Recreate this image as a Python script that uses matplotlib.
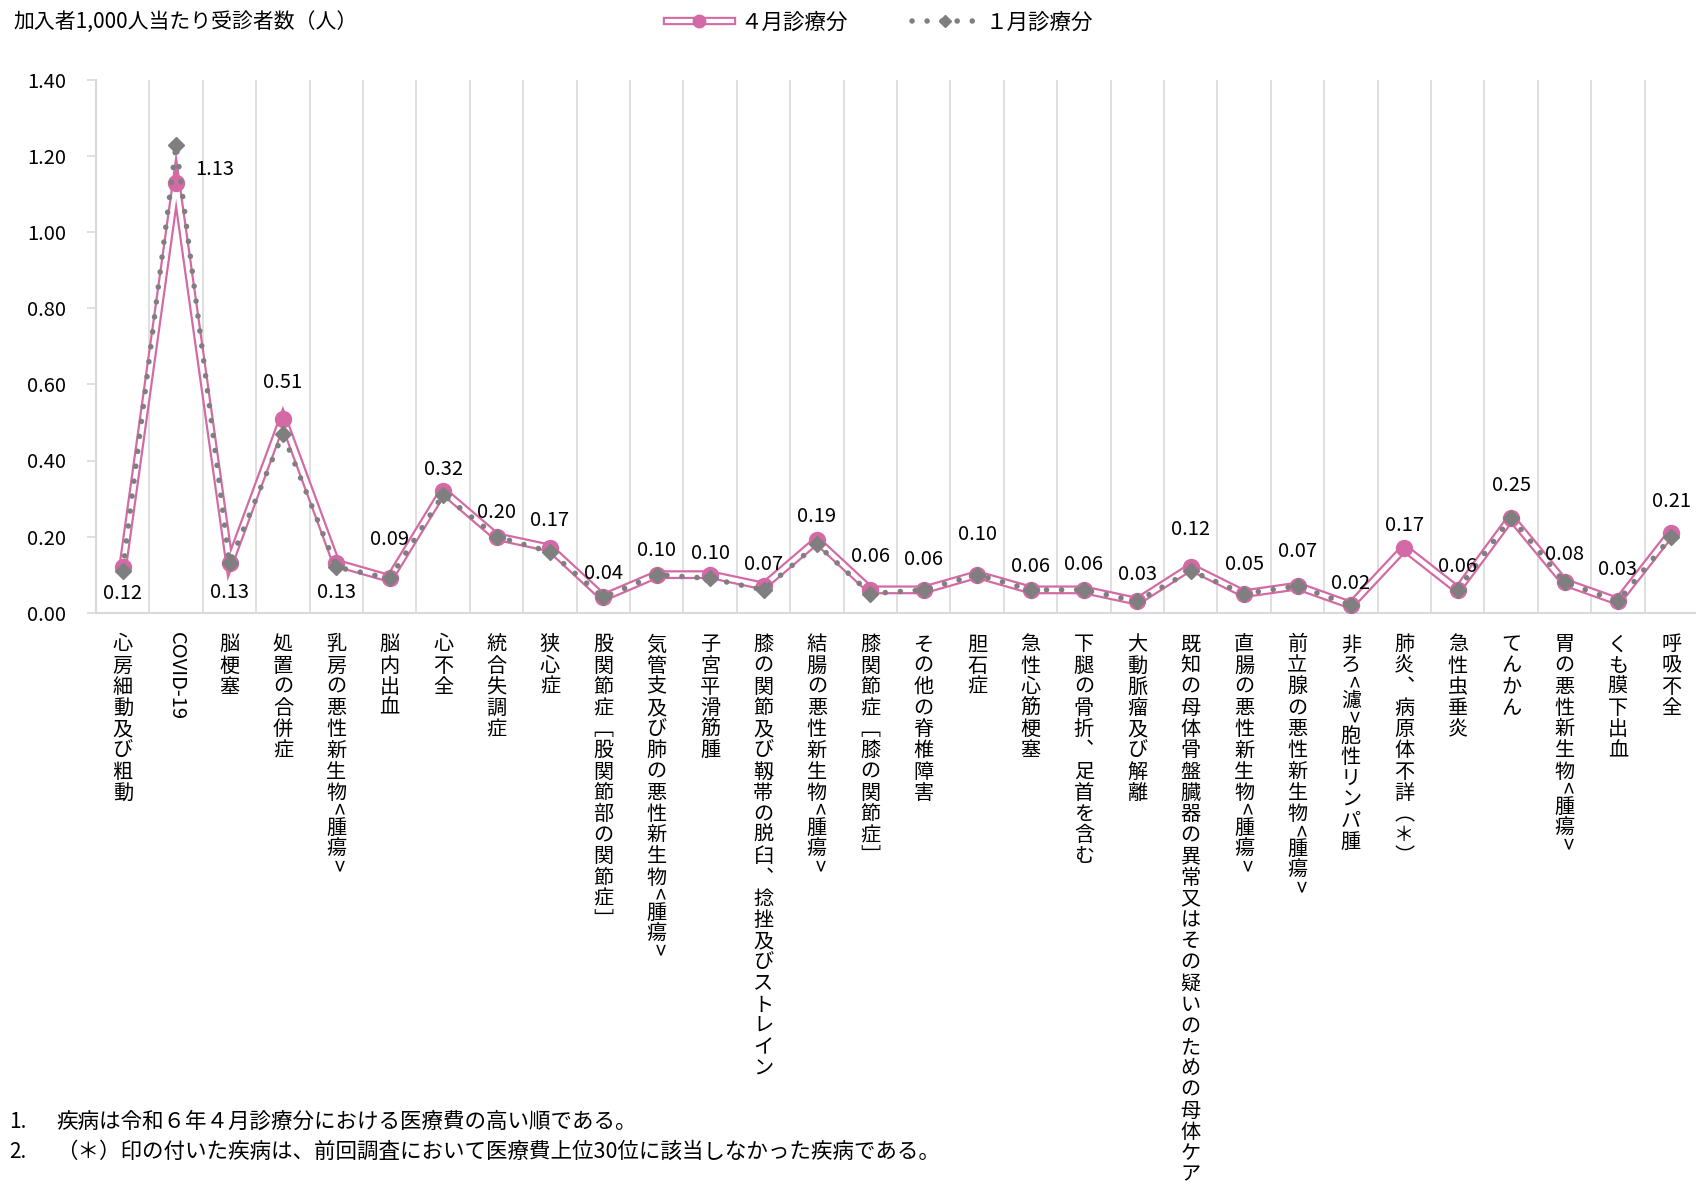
import numpy as np
import matplotlib
matplotlib.use('Agg')
import matplotlib.pyplot as plt
from matplotlib.lines import Line2D

plt.rcParams['font.family'] = ['Noto Sans CJK JP', 'DejaVu Sans']

# 疾病（令和6年4月診療分の医療費の高い順）
diseases = ['心房細動及び粗動', 'COVID-19', '脳梗塞', '処置の合併症', '乳房の悪性新生物<腫瘍>',
            '脳内出血', '心不全', '統合失調症', '狭心症', '股関節症［股関節部の関節症］',
            '気管支及び肺の悪性新生物<腫瘍>', '子宮平滑筋腫', '膝の関節及び靱帯の脱臼、捻挫及びストレイン',
            '結腸の悪性新生物<腫瘍>', '膝関節症［膝の関節症］', 'その他の脊椎障害', '胆石症',
            '急性心筋梗塞', '下腿の骨折、足首を含む', '大動脈瘤及び解離',
            '既知の母体骨盤臓器の異常又はその疑いのための母体ケア', '直腸の悪性新生物<腫瘍>',
            '前立腺の悪性新生物<腫瘍>', '非ろ<濾>胞性リンパ腫', '肺炎、病原体不詳（＊）',
            '急性虫垂炎', 'てんかん', '胃の悪性新生物<腫瘍>', 'くも膜下出血', '呼吸不全']

# 加入者1,000人当たり受診者数
apr = [0.12, 1.13, 0.13, 0.51, 0.13, 0.09, 0.32, 0.20, 0.17, 0.04,
       0.10, 0.10, 0.07, 0.19, 0.06, 0.06, 0.10, 0.06, 0.06, 0.03,
       0.12, 0.05, 0.07, 0.02, 0.17, 0.06, 0.25, 0.08, 0.03, 0.21]
jan = [0.11, 1.23, 0.13, 0.47, 0.12, 0.09, 0.31, 0.20, 0.16, 0.04,
       0.10, 0.09, 0.06, 0.18, 0.05, 0.06, 0.10, 0.06, 0.06, 0.03,
       0.11, 0.05, 0.07, 0.02, np.nan, 0.06, 0.25, 0.08, 0.03, 0.20]

series_names = ['４月診療分', '１月診療分']
y_title = '加入者1,000人当たり受診者数（人）'
notes = ['疾病は令和６年４月診療分における医療費の高い順である。',
         '（＊）印の付いた疾病は、前回調査において医療費上位30位に該当しなかった疾病である。']

pink = '#D36AA6'
gray = '#7F7F7F'
grid_c = '#D9D9D9'

# data label offsets (px, up = +), 1.13 is put to the right
lab_dy = [-26, 13, -29, 36, -29, 39, 21, 24, 28, 24, 24, 21, 22, 24, 33,
          30, 40, 23, 25, 27, 38, 29, 35, 22, 23, 23, 32, 28, 32, 31]
lab_dx = [0] * 30
lab_dx[1] = 39

fs_cat = 14.5
pitch = 21.2 * 0.72   # points per character
top = 14.0            # points below the axis

# vertical forms for tategaki
vmap = {'［': '\ufe47', '］': '\ufe48', '（': '\ufe35', '）': '\ufe36', '、': '\ufe11'}


def tate(ax, i, s):
    # write a label top-to-bottom, one character per cell
    y = -top
    kw = dict(xycoords=('data', 'axes fraction'), textcoords='offset points', ha='center')
    for c in s:
        if c in '<>':
            adv = pitch * 0.65
            ax.annotate(c, (i, 0), xytext=(0, y - adv / 2), va='center', rotation=-90,
                        fontsize=fs_cat * 1.1, **kw)
        else:
            adv = pitch
            ax.annotate(vmap.get(c, c), (i, 0), xytext=(0, y - adv / 2 - 0.38 * fs_cat),
                        va='baseline', fontsize=fs_cat, **kw)
        y -= adv


fig = plt.figure(figsize=(16.96, 11.85), dpi=100)
W, H = 1696, 1185
ax = fig.add_axes([96 / W, 1 - 612.7 / H, (1698 - 96) / W, 532.7 / H])

x = np.arange(len(diseases))
ax.plot(x, apr, color=pink, lw=6.4, zorder=2, solid_joinstyle='miter')
ax.plot(x, apr, color='white', lw=3.2, zorder=3, solid_joinstyle='miter')
ax.plot(x, apr, 'o', color=pink, ms=11.5, zorder=4)
ax.plot(x, jan, color=gray, lw=4.0, ls=(0, (0.01, 2.7)), dash_capstyle='round',
        marker='D', ms=8, zorder=5)

ax.set_xlim(-0.5, len(diseases) - 0.5)
ax.set_ylim(0, 1.4)
ax.set_yticks(np.arange(0, 1.41, 0.2))
ax.set_yticklabels(['%.2f' % v for v in np.arange(0, 1.41, 0.2)])
ax.set_xticks([])
ax.set_xticks(x + 0.5, minor=True)
ax.grid(which='minor', axis='x', color=grid_c, lw=1.2)
ax.tick_params(axis='x', which='minor', length=0)
ax.tick_params(axis='y', length=6.5, width=1.2, color=grid_c, pad=15, labelsize=14.5)
for s in ['top', 'right']:
    ax.spines[s].set_visible(False)
for s in ['left', 'bottom']:
    ax.spines[s].set_color(grid_c)
    ax.spines[s].set_linewidth(1.5)

# data labels
for i, v in enumerate(apr):
    ax.annotate('%.2f' % v, (i, v), xytext=(lab_dx[i] * 0.72, lab_dy[i] * 0.72),
                textcoords='offset points', ha='center', va='center', fontsize=14.5, zorder=6)

# category labels
for i, name in enumerate(diseases):
    if name.isascii():
        ax.annotate(name, (i, 0), xycoords=('data', 'axes fraction'), xytext=(0, -top),
                    textcoords='offset points', ha='center', va='top', rotation=-90,
                    fontsize=fs_cat)
    else:
        tate(ax, i, name)

fig.text(13 / W, 1 - 22 / H, y_title, ha='left', va='center', fontsize=15)

h1 = (Line2D([], [], color=pink, lw=6.0), Line2D([], [], color='white', lw=3.0),
      Line2D([], [], ls='none', marker='o', color=pink, ms=9))
h2 = Line2D([], [], color=gray, lw=4, ls=(0, (0.01, 2.7)), dash_capstyle='round',
            marker='D', ms=6.5)
fig.legend([h1, h2], series_names, loc='center', bbox_to_anchor=(880 / W, 1 - 23 / H),
           ncol=2, frameon=False, fontsize=15.5, handlelength=3.0, handletextpad=0.4,
           columnspacing=3.0, numpoints=1)

for k, t in enumerate(notes):
    yy = 1 - (1122 + 30 * k) / H
    fig.text(9 / W, yy, '%d.' % (k + 1), ha='left', va='center', fontsize=15)
    fig.text(56 / W, yy, t, ha='left', va='center', fontsize=15.5)

fig.savefig('out.png', dpi=100)
